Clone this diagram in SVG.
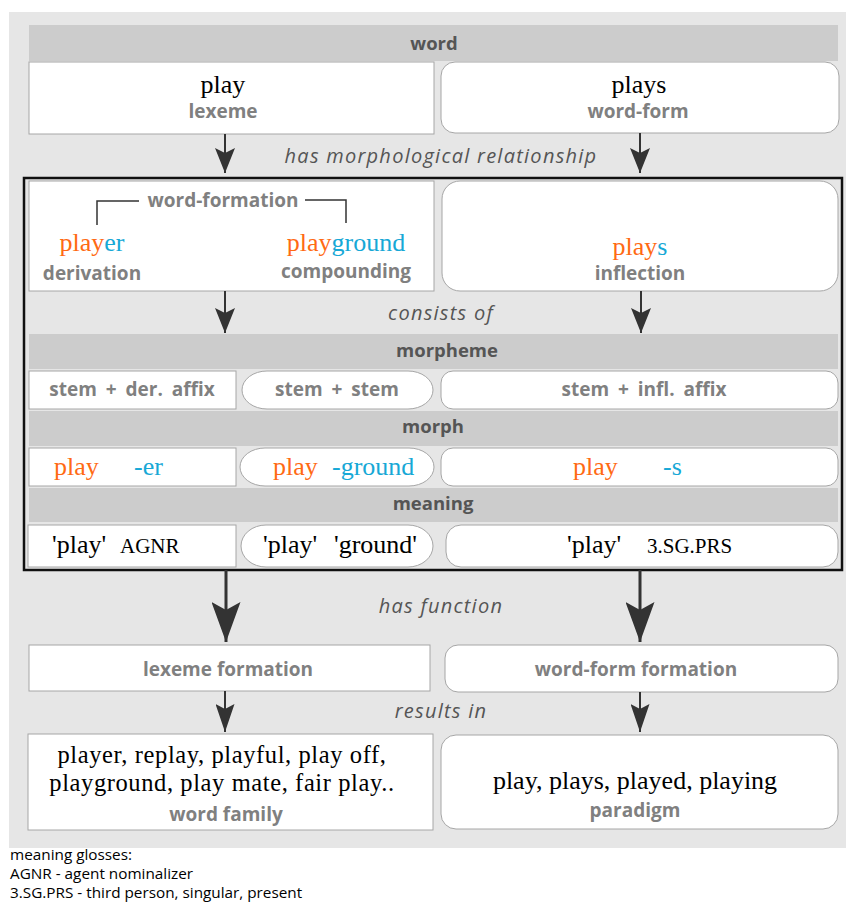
<svg xmlns="http://www.w3.org/2000/svg" width="846" height="902" viewBox="0 0 846 902">
<style>
.box{fill:#fff;stroke:#a6a6a6;stroke-width:1}
.hdr{fill:#cccccc;stroke:none}
.ht{font-family:"Open Sans","Noto Sans",sans-serif;font-weight:bold;font-size:18.5px;fill:#555;text-anchor:middle}
.lb{font-family:"Open Sans","Noto Sans",sans-serif;font-weight:bold;font-size:19px;fill:#808080;text-anchor:middle}
.ws{word-spacing:4px}
.it{font-family:"Open Sans","Noto Sans",sans-serif;font-style:italic;font-size:20px;letter-spacing:1.25px;fill:#555;text-anchor:middle}
.sr{font-family:"Liberation Serif","Times New Roman",serif;font-size:26px;fill:#000;text-anchor:middle}
.sf{font-family:"Liberation Serif","Times New Roman",serif;font-size:24.5px;letter-spacing:0.6px;fill:#000;text-anchor:middle}
.sl{font-family:"Liberation Serif","Times New Roman",serif;font-size:26px;fill:#000}
.sm{font-family:"Liberation Serif","Times New Roman",serif;font-size:21px;fill:#000}
.or{fill:#ff6a13}
.bl{fill:#17a8d6}
.ft{font-family:"Open Sans","Noto Sans",sans-serif;font-size:15.3px;fill:#000}
.ln{stroke:#333;fill:none}
</style>
<defs>
<marker id="a1" viewBox="0 0 25 20" refX="25" refY="10" markerWidth="25" markerHeight="20" markerUnits="userSpaceOnUse" orient="auto"><path d="M0,0 L5,10 L0,20 L25,10 Z" fill="#333"/></marker>
<marker id="a2" viewBox="0 0 40 29" refX="40" refY="14.5" markerWidth="40" markerHeight="29" markerUnits="userSpaceOnUse" orient="auto"><path d="M0,0 L8,14.5 L0,29 L40,14.5 Z" fill="#333"/></marker>
<marker id="a3" viewBox="0 0 28 19" refX="28" refY="9.5" markerWidth="28" markerHeight="19" markerUnits="userSpaceOnUse" orient="auto"><path d="M0,0 L5,9.5 L0,19 L28,9.5 Z" fill="#333"/></marker>
</defs>
<rect x="9" y="12" width="837" height="836" fill="#e6e6e6"/>

<g id="word-header"><rect class="hdr" x="29" y="25" width="809" height="36"/><text class="ht" x="434" y="50">word</text></g>
<g id="lexeme"><rect class="box" x="29" y="62" width="405" height="72"/><text class="sr" x="223" y="93">play</text><text class="lb" x="223" y="118">lexeme</text></g>
<g id="word-form"><rect class="box" x="441" y="62" width="398" height="71" rx="14"/><text class="sr" x="639" y="93">plays</text><text class="lb" x="638" y="118">word-form</text></g>

<text class="it" x="441" y="163">has morphological relationship</text>

<rect x="24" y="178" width="818" height="392" fill="none" stroke="#111" stroke-width="2.5"/>

<g id="word-formation"><rect class="box" x="29" y="181" width="405" height="110"/>
<text class="lb" x="223" y="207">word-formation</text>
<path class="ln" d="M97,225 V201 H139 M305,200 H346 V223" stroke-width="1.5" stroke="#222"/>
<text class="sr" x="92" y="251"><tspan class="or">play</tspan><tspan class="bl">er</tspan></text>
<text class="lb" x="92" y="280">derivation</text>
<text class="sr" x="346" y="251"><tspan class="or">play</tspan><tspan class="bl">ground</tspan></text>
<text class="lb" x="346" y="278">compounding</text></g>
<g id="inflection"><rect class="box" x="442" y="181" width="396" height="110" rx="18"/>
<text class="sr" x="640" y="255"><tspan class="or">play</tspan><tspan class="bl">s</tspan></text>
<text class="lb" x="640" y="280">inflection</text></g>

<text class="it" x="441" y="320">consists of</text>

<g id="morpheme-header"><rect class="hdr" x="29" y="334" width="809" height="35"/><text class="ht" x="447" y="357">morpheme</text></g>
<g id="m-der"><rect class="box" x="29" y="371" width="207" height="38"/><text class="lb ws" x="132" y="396">stem + der. affix</text></g>
<g id="m-comp"><rect class="box" x="242" y="371" width="191" height="38" rx="25" ry="19"/><text class="lb ws" x="337" y="396">stem + stem</text></g>
<g id="m-infl"><rect class="box" x="441" y="371" width="397" height="38" rx="12"/><text class="lb ws" x="644" y="396">stem + infl. affix</text></g>

<g id="morph-header"><rect class="hdr" x="29" y="411" width="809" height="35"/><text class="ht" x="433" y="433">morph</text></g>
<g id="f-der"><rect class="box" x="29" y="448" width="207" height="38"/><text class="sl" y="475"><tspan class="or" x="54">play</tspan><tspan class="bl" x="134">-er</tspan></text></g>
<g id="f-comp"><rect class="box" x="240" y="448" width="194" height="38" rx="25" ry="19"/><text class="sl" y="475"><tspan class="or" x="273">play</tspan><tspan class="bl" x="332">-ground</tspan></text></g>
<g id="f-infl"><rect class="box" x="441" y="448" width="397" height="38" rx="12"/><text class="sl" y="475"><tspan class="or" x="573">play</tspan><tspan class="bl" x="663">-s</tspan></text></g>

<g id="meaning-header"><rect class="hdr" x="29" y="488" width="809" height="34"/><text class="ht" x="433" y="510">meaning</text></g>
<g id="g-der"><rect class="box" x="28" y="525" width="208" height="42"/><text class="sl" x="52" y="553">'play'</text><text class="sm" x="120" y="553">AGNR</text></g>
<g id="g-comp"><rect class="box" x="241" y="525" width="192" height="42" rx="25" ry="21"/><text class="sl" y="553"><tspan x="263">'play'</tspan><tspan x="334">'ground'</tspan></text></g>
<g id="g-infl"><rect class="box" x="446" y="525" width="392" height="42" rx="15"/><text class="sl" x="567" y="553">'play'</text><text class="sm" x="647" y="553">3.SG.PRS</text></g>

<text class="it" x="441" y="613">has function</text>

<g id="lexeme-formation"><rect class="box" x="29" y="645" width="401" height="46"/><text class="lb" x="228" y="676">lexeme formation</text></g>
<g id="word-form-formation"><rect class="box" x="445" y="645" width="393" height="47" rx="13"/><text class="lb" x="636" y="676">word-form formation</text></g>

<text class="it" x="441" y="718">results in</text>

<g id="word-family"><rect class="box" x="28" y="734" width="405" height="96"/>
<text class="sf" x="222" y="763">player, replay, playful, play off,</text>
<text class="sf" x="222" y="791">playground, play mate, fair play..</text>
<text class="lb" x="226" y="821">word family</text></g>
<g id="paradigm"><rect class="box" x="441" y="735" width="397" height="94" rx="15"/>
<text class="sr" x="635" y="789">play, plays, played, playing</text>
<text class="lb" x="635" y="817">paradigm</text></g>

<g id="connectors">
<path class="ln" stroke-width="2" d="M225,134 V173" marker-end="url(#a1)"/>
<path class="ln" stroke-width="2" d="M640,133 V173" marker-end="url(#a1)"/>
<path class="ln" stroke-width="2" d="M225,291 V333" marker-end="url(#a1)"/>
<path class="ln" stroke-width="2" d="M641,291 V333" marker-end="url(#a1)"/>
<path class="ln" stroke-width="3" d="M226,570 V642" marker-end="url(#a2)"/>
<path class="ln" stroke-width="3" d="M640,570 V642" marker-end="url(#a2)"/>
<path class="ln" stroke-width="2" d="M225,691 V732" marker-end="url(#a3)"/>
<path class="ln" stroke-width="2" d="M640,692 V732" marker-end="url(#a3)"/>
</g>

<text class="ft" x="10" y="860">meaning glosses:</text>
<text class="ft" x="10" y="879">AGNR - agent nominalizer</text>
<text class="ft" x="10" y="898">3.SG.PRS - third person, singular, present</text>
</svg>
